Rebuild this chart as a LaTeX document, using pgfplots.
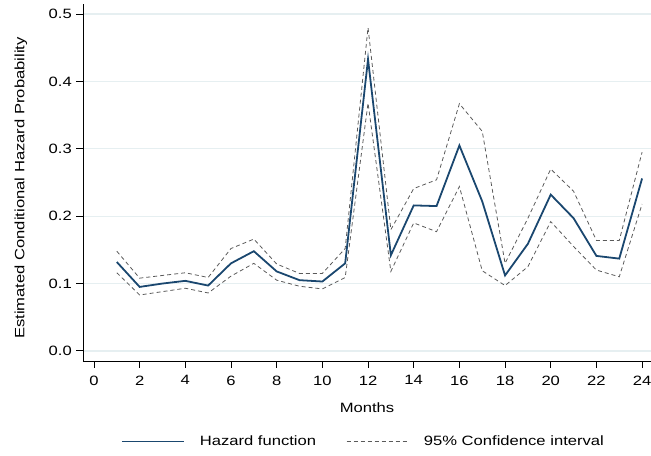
\documentclass[border=0pt]{standalone}
\usepackage{pgfplots}
\pgfplotsset{compat=1.18}
\usepackage{fontspec}
\setmainfont{Liberation Sans}[FakeStretch=1.23]
\definecolor{navy}{HTML}{1A476F}
\definecolor{gridc}{HTML}{E6EFF1}
\definecolor{cigray}{HTML}{5A5A5A}
\newcommand{\fs}{\fontsize{13.5bp}{16bp}\selectfont}
\begin{document}
\fs
\begin{tikzpicture}
\begin{axis}[
  scale only axis,
  width=568bp, height=357bp,
  xmin=-0.48, xmax=24.39,
  ymin=-0.015, ymax=0.515,
  axis x line*=bottom, axis y line*=left,
  axis line style={black, line width=0.9pt},
  xtick={0,2,...,24},
  ytick={0,0.1,0.2,0.3,0.4,0.5},
  yticklabel style={/pgf/number format/.cd, fixed, fixed zerofill, precision=1},
  xticklabel style={yshift=-3.5bp},
  /pgf/number format/assume math mode=true,
  tick align=outside,
  tick style={black, line width=0.9pt},
  major tick length=6.5bp,
  ymajorgrids, grid style={gridc, line width=1.3pt},
  xlabel={Months},
  ylabel={Estimated Conditional Hazard Probability},
  xlabel style={at={(axis description cs:0.5,-0.1317)}, anchor=center},
  ylabel style={at={(axis description cs:-0.1092,0.4846)}, anchor=center, rotate=0},
  ticklabel style={font=\fs},
  label style={font=\fs},
  legend style={at={(axis description cs:0.492,-0.2255)}, anchor=center, draw=none, fill=none,
    legend columns=2, font=\fs,
    nodes={inner sep=0pt},
    /tikz/every odd column/.style={column sep=15bp},
    /tikz/every even column/.style={column sep=30bp}},
]
\addplot[navy, line width=1.8pt,
  legend image code/.code={\draw[navy, line width=1.8pt] (0bp,0bp) -- (62bp,0bp);}] coordinates {
(1,0.132)(2,0.095)(3,0.100)(4,0.104)(5,0.097)(6,0.130)(7,0.148)(8,0.118)(9,0.105)(10,0.103)(11,0.130)(12,0.433)
(13,0.142)(14,0.216)(15,0.215)(16,0.305)(17,0.222)(18,0.112)(19,0.159)(20,0.232)(21,0.197)(22,0.141)(23,0.137)(24,0.256)};
\addlegendentry{Hazard function}
\addplot[cigray, dash pattern=on 4bp off 3bp, line width=0.8pt,
  legend image code/.code={\draw[cigray, dash pattern=on 4bp off 3bp, line width=0.8pt] (0bp,0bp) -- (62bp,0bp);}] coordinates {
(1,0.148)(2,0.108)(3,0.112)(4,0.116)(5,0.109)(6,0.152)(7,0.166)(8,0.129)(9,0.115)(10,0.115)(11,0.152)(12,0.480)
(13,0.180)(14,0.241)(15,0.254)(16,0.367)(17,0.326)(18,0.130)(19,0.197)(20,0.270)(21,0.237)(22,0.164)(23,0.164)(24,0.295)};
\addlegendentry{95\% Confidence interval}
\addplot[cigray, dash pattern=on 4bp off 3bp, line width=0.8pt, forget plot] coordinates {
(1,0.116)(2,0.083)(3,0.088)(4,0.093)(5,0.086)(6,0.111)(7,0.130)(8,0.105)(9,0.096)(10,0.092)(11,0.109)(12,0.368)
(13,0.118)(14,0.190)(15,0.177)(16,0.244)(17,0.119)(18,0.097)(19,0.125)(20,0.192)(21,0.155)(22,0.120)(23,0.110)(24,0.218)};
\end{axis}
\pgfresetboundingbox
\path ([xshift=-83bp,yshift=-95bp]current axis.south west) rectangle ([yshift=4bp]current axis.north east);
\end{tikzpicture}
\end{document}
